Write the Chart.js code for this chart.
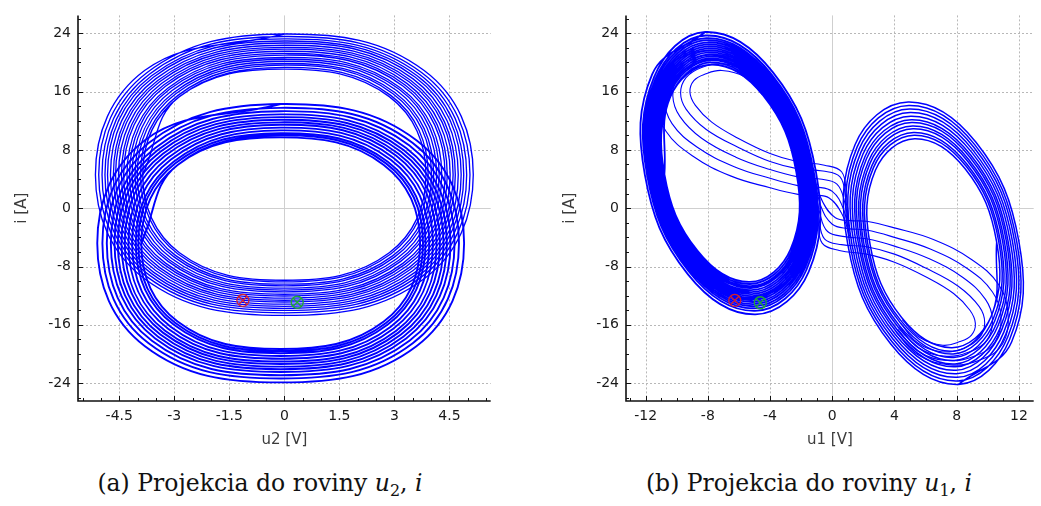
<!DOCTYPE html>
<html>
<head>
<meta charset="utf-8">
<script src="https://cdn.jsdelivr.net/npm/chart.js@4.4.1/dist/chart.umd.min.js"></script>
<style>
  html, body { margin: 0; padding: 0; background: #fff; }
  body { width: 1041px; height: 506px; position: relative; overflow: hidden; }
  canvas { position: absolute; top: 0; }
  #c1 { left: 0; }
  #c2 { left: 548px; }
  .cap { position: absolute; top: 469px; width: 520px; text-align: center;
         font-family: 'DejaVu Serif', serif; font-size: 23.5px; color: #111; white-space: nowrap; }
  .cap sub { font-size: 0.68em; vertical-align: -0.3em; line-height: 0; }
</style>
</head>
<body>
<canvas id="c1" width="498" height="460"></canvas>
<canvas id="c2" width="493" height="460"></canvas>
<div class="cap" style="left:0">(a) Projekcia do roviny <i>u</i><sub>2</sub>, <i>i</i></div>
<div class="cap" style="left:549px">(b) Projekcia do roviny <i>u</i><sub>1</sub>, <i>i</i></div>
<script>
// tick labels
const u2Ticks = [-4.5, -3, -1.5, 0, 1.5, 3, 4.5];
const u1Ticks = [-12, -8, -4, 0, 4, 8, 12];
const iTicks = [-24, -16, -8, 0, 8, 16, 24];

// (a) u2-i plane: loops of the upper ring (left scroll)
const u2iUpper = [
  [-3.86,4.6],[-2.86,15.31],
  [0,19.08],[2.86,15.31],[3.86,4.6],[2.86,-6.11],[0,-9.88],[-2.86,-6.11],[-3.86,4.6],[-2.86,15.31],
  [0,19.31],[2.9,15.48],[3.92,4.6],[2.9,-6.28],[0,-10.11],[-2.9,-6.28],[-3.92,4.6],[-2.9,15.48],
  [0,19.62],[2.96,15.71],[4.01,4.6],[2.96,-6.51],[0,-10.42],[-2.96,-6.51],[-4.01,4.6],[-2.96,15.71],
  [0,19.85],[3.01,15.88],[4.07,4.6],[3.01,-6.68],[0,-10.65],[-3.01,-6.68],[-4.07,4.6],[-3.01,15.88],
  [0,20.16],[3.07,16.11],[4.15,4.6],[3.07,-6.91],[0,-10.96],[-3.07,-6.91],[-4.15,4.6],[-3.07,16.11],
  [0,20.43],[3.13,16.31],[4.22,4.6],[3.13,-7.11],[0,-11.23],[-3.13,-7.11],[-4.22,4.6],[-3.13,16.31],
  [0,20.68],[3.17,16.5],[4.29,4.6],[3.17,-7.3],[0,-11.48],[-3.17,-7.3],[-4.29,4.6],[-3.17,16.5],
  [0,21.01],[3.24,16.74],[4.38,4.6],[3.24,-7.54],[0,-11.81],[-3.24,-7.54],[-4.38,4.6],[-3.24,16.74],
  [0,21.24],[3.29,16.91],[4.44,4.6],[3.29,-7.71],[0,-12.04],[-3.29,-7.71],[-4.44,4.6],[-3.29,16.91],
  [0,21.53],[3.34,17.13],[4.52,4.6],[3.34,-7.93],[0,-12.33],[-3.34,-7.93],[-4.52,4.6],[-3.34,17.13],
  [0,21.83],[3.4,17.35],[4.6,4.6],[3.4,-8.15],[0,-12.63],[-3.4,-8.15],[-4.6,4.6],[-3.4,17.35],
  [0,22.07],[3.45,17.53],[4.66,4.6],[3.45,-8.33],[0,-12.87],[-3.45,-8.33],[-4.66,4.6],[-3.45,17.53],
  [0,22.36],[3.51,17.74],[4.74,4.6],[3.51,-8.54],[0,-13.16],[-3.51,-8.54],[-4.74,4.6],[-3.51,17.74],
  [0,22.66],[3.57,17.97],[4.82,4.6],[3.57,-8.77],[0,-13.46],[-3.57,-8.77],[-4.82,4.6],[-3.57,17.97],
  [0,22.94],[3.62,18.17],[4.89,4.6],[3.62,-8.97],[0,-13.74],[-3.62,-8.97],[-4.89,4.6],[-3.62,18.17],
  [0,23.22],[3.68,18.38],[4.97,4.6],[3.68,-9.18],[0,-14.02],[-3.68,-9.18],[-4.97,4.6],[-3.68,18.38],
  [0,23.55],[3.74,18.62],[5.06,4.6],[3.74,-9.42],[0,-14.35],[-3.74,-9.42],[-5.06,4.6],[-3.74,18.62],
  [0,23.9],[3.81,18.88],[5.15,4.6],[3.81,-9.68],[0,-14.7],[-3.81,-9.68],[-5.15,4.6],[-3.81,18.88],[0,23.9]
];

// (a) loops of the lower ring (right scroll)
const u2iLower = [
  [-3.9,-4.8],[-2.91,5.94],
  [-0.1,9.72],[2.71,5.94],[3.7,-4.8],[2.71,-15.54],[-0.1,-19.32],[-2.91,-15.54],[-3.9,-4.8],[-2.91,5.94],
  [-0.1,10.0],[2.77,6.15],[3.78,-4.8],[2.77,-15.75],[-0.1,-19.6],[-2.97,-15.75],[-3.98,-4.8],[-2.97,6.15],
  [-0.1,10.29],[2.82,6.37],[3.85,-4.8],[2.82,-15.97],[-0.1,-19.89],[-3.02,-15.97],[-4.05,-4.8],[-3.02,6.37],
  [-0.1,10.67],[2.9,6.65],[3.95,-4.8],[2.9,-16.25],[-0.1,-20.27],[-3.1,-16.25],[-4.15,-4.8],[-3.1,6.65],
  [-0.1,11.05],[2.97,6.93],[4.05,-4.8],[2.97,-16.53],[-0.1,-20.65],[-3.17,-16.53],[-4.25,-4.8],[-3.17,6.93],
  [-0.1,11.44],[3.05,7.21],[4.15,-4.8],[3.05,-16.81],[-0.1,-21.04],[-3.25,-16.81],[-4.35,-4.8],[-3.25,7.21],
  [-0.1,11.78],[3.11,7.47],[4.24,-4.8],[3.11,-17.07],[-0.1,-21.38],[-3.31,-17.07],[-4.44,-4.8],[-3.31,7.47],
  [-0.1,12.14],[3.18,7.74],[4.34,-4.8],[3.18,-17.34],[-0.1,-21.74],[-3.38,-17.34],[-4.54,-4.8],[-3.38,7.74],
  [-0.1,12.49],[3.25,7.99],[4.43,-4.8],[3.25,-17.59],[-0.1,-22.09],[-3.45,-17.59],[-4.63,-4.8],[-3.45,7.99],
  [-0.1,12.87],[3.32,8.27],[4.53,-4.8],[3.32,-17.87],[-0.1,-22.47],[-3.52,-17.87],[-4.73,-4.8],[-3.52,8.27],
  [-0.1,13.31],[3.41,8.6],[4.64,-4.8],[3.41,-18.2],[-0.1,-22.91],[-3.61,-18.2],[-4.84,-4.8],[-3.61,8.6],
  [-0.1,13.77],[3.5,8.94],[4.76,-4.8],[3.5,-18.54],[-0.1,-23.37],[-3.7,-18.54],[-4.96,-4.8],[-3.7,8.94],
  [-0.1,14.3],[3.6,9.33],[4.9,-4.8],[3.6,-18.93],[-0.1,-23.9],[-3.8,-18.93],[-5.1,-4.8],[-3.8,9.33],[-0.1,14.3]
];

// (b) u1-i plane: left scroll
const u1iLeft = [
  [-10.79,4.65],[-10.42,15.23],
  [-7.8,19.71],[-4.44,15.46],[-2.31,4.95],[-2.68,-5.63],[-5.3,-10.11],[-8.66,-5.86],[-10.79,4.65],[-10.42,15.23],
  [-7.82,20.0],[-4.4,15.66],[-2.23,4.96],[-2.6,-5.84],[-5.28,-10.4],[-8.7,-6.06],[-10.87,4.64],[-10.5,15.44],
  [-7.85,20.3],[-4.36,15.87],[-2.15,4.96],[-2.53,-6.04],[-5.25,-10.7],[-8.74,-6.27],[-10.95,4.64],[-10.57,15.64],
  [-7.87,20.55],[-4.32,16.05],[-2.08,4.96],[-2.46,-6.22],[-5.23,-10.95],[-8.78,-6.45],[-11.02,4.64],[-10.64,15.82],
  [-7.89,20.84],[-4.28,16.26],[-2.0,4.97],[-2.39,-6.42],[-5.21,-11.24],[-8.82,-6.66],[-11.1,4.63],[-10.71,16.02],
  [-7.91,21.11],[-4.24,16.45],[-1.92,4.97],[-2.31,-6.61],[-5.19,-11.51],[-8.86,-6.85],[-11.18,4.63],[-10.79,16.21],
  [-7.94,21.38],[-4.2,16.65],[-1.84,4.97],[-2.24,-6.8],[-5.16,-11.78],[-8.9,-7.05],[-11.26,4.63],[-10.86,16.4],
  [-7.96,21.65],[-4.17,16.84],[-1.76,4.97],[-2.17,-6.99],[-5.14,-12.05],[-8.93,-7.24],[-11.34,4.63],[-10.93,16.59],
  [-7.98,21.92],[-4.13,17.03],[-1.69,4.98],[-2.1,-7.18],[-5.12,-12.32],[-8.97,-7.43],[-11.41,4.62],[-11.0,16.78],
  [-8.0,22.19],[-4.09,17.23],[-1.61,4.98],[-2.03,-7.37],[-5.1,-12.59],[-9.01,-7.63],[-11.49,4.62],[-11.07,16.97],
  [-8.03,22.47],[-4.05,17.42],[-1.53,4.98],[-1.96,-7.56],[-5.07,-12.87],[-9.05,-7.82],[-11.57,4.62],[-11.14,17.16],
  [-8.05,22.76],[-4.01,17.63],[-1.45,4.99],[-1.89,-7.76],[-5.05,-13.16],[-9.09,-8.03],[-11.65,4.61],[-11.21,17.36],
  [-8.08,23.05],[-3.97,17.84],[-1.37,4.99],[-1.81,-7.96],[-5.02,-13.45],[-9.13,-8.24],[-11.73,4.61],[-11.29,17.56],
  [-8.1,23.34],[-3.93,18.04],[-1.29,4.99],[-1.74,-8.17],[-5.0,-13.74],[-9.17,-8.44],[-11.81,4.61],[-11.36,17.77],
  [-8.13,23.69],[-3.88,18.29],[-1.19,5.0],[-1.65,-8.41],[-4.97,-14.09],[-9.22,-8.69],[-11.91,4.6],[-11.45,18.01],
  [-8.17,24.17],[-3.81,18.64],[-1.05,5.0],[-1.52,-8.75],[-4.93,-14.57],[-9.29,-9.04],[-12.05,4.6],[-11.58,18.35],[-8.17,24.17]
];

// (b) right scroll
const u1iRight = [
  [10.57,-4.65],[10.22,-14.83],
  [7.7,-19.13],[4.47,-15.04],[2.43,-4.95],[2.78,5.23],[5.3,9.53],[8.53,5.44],[10.57,-4.65],[10.22,-14.83],
  [7.74,-19.62],[4.4,-15.39],[2.29,-4.95],[2.65,5.57],[5.26,10.02],[8.6,5.79],[10.71,-4.65],[10.35,-15.17],
  [7.77,-20.0],[4.35,-15.66],[2.18,-4.96],[2.55,5.84],[5.23,10.4],[8.65,6.06],[10.82,-4.64],[10.45,-15.44],
  [7.81,-20.49],[4.28,-16.01],[2.04,-4.96],[2.43,6.18],[5.19,10.89],[8.72,6.41],[10.96,-4.64],[10.57,-15.78],
  [7.84,-20.88],[4.23,-16.29],[1.93,-4.97],[2.33,6.45],[5.16,11.28],[8.77,6.69],[11.07,-4.63],[10.67,-16.05],
  [7.89,-21.36],[4.16,-16.63],[1.8,-4.97],[2.2,6.79],[5.11,11.76],[8.84,7.03],[11.2,-4.63],[10.8,-16.39],
  [7.92,-21.75],[4.1,-16.91],[1.69,-4.98],[2.1,7.06],[5.08,12.15],[8.9,7.31],[11.31,-4.62],[10.9,-16.66],
  [7.96,-22.23],[4.03,-17.26],[1.55,-4.98],[1.97,7.4],[5.04,12.63],[8.97,7.66],[11.45,-4.62],[11.03,-17.0],
  [8.0,-22.72],[3.97,-17.6],[1.41,-4.99],[1.85,7.73],[5.0,13.12],[9.03,8.0],[11.59,-4.61],[11.15,-17.33],
  [8.04,-23.2],[3.9,-17.95],[1.27,-4.99],[1.72,8.07],[4.96,13.6],[9.1,8.35],[11.73,-4.61],[11.28,-17.67],
  [8.08,-23.69],[3.83,-18.29],[1.14,-5.0],[1.6,8.41],[4.92,14.09],[9.17,8.69],[11.86,-4.6],[11.4,-18.01],
  [8.12,-24.17],[3.76,-18.64],[1.0,-5.0],[1.47,8.75],[4.88,14.57],[9.24,9.04],[12.0,-4.6],[11.53,-18.35],[8.12,-24.17]
];

// (b) crossings from the right scroll into the left one
const u1iCrossLeft = [
  [[1.05,-2.0],[0.9,2.0],[0.6,5.0],[-0.5,5.9],[-2.27,6.4],[-4.0,7.5],[-6.06,9.6],[-7.75,11.8],[-8.8,14.1],[-9.15,15.9],[-8.9,17.5],[-8.17,18.4],[-7.1,18.9],[-5.6,18.0],[-4.5,15.6]],
  [[1.05,-2.5],[0.85,1.5],[0.5,4.3],[-0.6,5.1],[-2.2,5.4],[-4.0,6.4],[-6.0,8.3],[-8.1,10.8],[-9.4,13.6],[-9.75,15.8],[-9.4,17.9],[-8.4,19.3],[-7.0,19.8],[-5.5,18.8],[-4.4,16.0]],
  [[1.1,-3.0],[0.8,0.8],[0.3,3.3],[-0.8,4.0],[-2.2,4.3],[-4.0,5.3],[-6.2,7.0],[-8.4,9.6],[-9.8,12.6],[-10.25,15.4],[-9.9,18.2],[-8.8,19.8],[-7.2,20.4],[-5.5,19.3],[-4.3,16.4]],
  [[1.1,-3.5],[0.7,0.0],[0.0,2.3],[-1.0,2.9],[-2.2,3.1],[-4.0,4.1],[-6.3,5.7],[-8.7,8.4],[-10.3,11.6],[-10.8,15.0],[-10.4,18.5],[-9.2,20.3],[-7.4,21.0],[-5.5,19.8],[-4.2,16.8]],
  [[1.15,-4.0],[0.6,-0.7],[-0.2,1.4],[-1.2,1.8],[-2.2,1.9],[-4.0,2.8],[-6.5,4.4],[-9.0,7.2],[-10.7,10.6],[-11.3,14.6],[-10.9,18.7],[-9.6,20.8],[-7.6,21.6],[-5.5,20.3],[-4.1,17.2]]
];

// (b) crossings from the left scroll into the right one
const u1iCrossRight = [
  [[-1.05,2.2],[-0.9,-1.8],[-0.65,-4.8],[0.45,-5.8],[2.2,-6.3],[4.0,-7.4],[6.1,-9.5],[7.8,-11.7],[8.85,-14.0],[9.2,-15.8],[8.95,-17.4],[8.2,-18.3],[7.1,-18.8],[5.6,-17.7],[4.5,-15.3]],
  [[-1.05,2.6],[-0.85,-1.4],[-0.5,-4.2],[0.6,-5.0],[2.2,-5.3],[4.0,-6.3],[6.0,-8.2],[8.1,-10.7],[9.45,-13.5],[9.8,-15.7],[9.45,-17.8],[8.45,-19.2],[7.0,-19.7],[5.5,-18.5],[4.4,-15.8]],
  [[-1.1,3.1],[-0.8,-0.7],[-0.3,-3.2],[0.8,-3.9],[2.2,-4.2],[4.0,-5.2],[6.2,-6.9],[8.4,-9.5],[9.85,-12.5],[10.3,-15.3],[9.95,-18.1],[8.85,-19.7],[7.2,-20.3],[5.5,-19.1],[4.3,-16.2]],
  [[-1.1,3.6],[-0.7,0.1],[0.0,-2.2],[1.0,-2.8],[2.2,-3.0],[4.0,-4.0],[6.3,-5.6],[8.7,-8.3],[10.3,-11.5],[10.85,-14.9],[10.45,-18.4],[9.25,-20.2],[7.4,-20.9],[5.5,-19.6],[4.2,-16.6]],
  [[-1.15,4.1],[-0.6,0.8],[0.2,-1.3],[1.2,-1.7],[2.2,-1.8],[4.0,-2.7],[6.5,-4.3],[9.0,-7.1],[10.7,-10.5],[11.3,-14.5],[10.95,-18.6],[9.65,-20.7],[7.6,-21.5],[5.5,-20.1],[4.1,-17.0]]
];

// start / end markers
const u2iStart = [-1.13, -12.65];
const u2iEnd = [0.35, -12.9];
const u1iStart = [-6.27, -12.65];
const u1iEnd = [-4.63, -12.97];

const BLUE = '#0000ff';
const RED = '#d4202e';
const GREEN = '#20a834';

const pts = arr => arr.map(([x, y]) => ({ x, y }));

function curve(data, width) {
  return { data: pts(data), showLine: true, borderColor: BLUE, borderWidth: width,
           pointRadius: 0, tension: 0.4, fill: false };
}
function marker(p, color, style) {
  return { data: pts([p]), showLine: false, pointStyle: style, pointRadius: 6,
           pointBorderColor: color, pointBackgroundColor: 'rgba(0,0,0,0)', pointBorderWidth: 1.3 };
}

// dotted grid, axis lines, major + minor ticks
const frame = {
  id: 'frame',
  beforeDatasetsDraw(chart) {
    const { ctx, chartArea: a, scales: { x, y } } = chart;
    ctx.save();
    ctx.lineWidth = 1;
    for (const t of x.ticks) {
      const px = Math.round(x.getPixelForValue(t.value)) + 0.5;
      ctx.strokeStyle = t.value === 0 ? '#cfcfcf' : '#b8b8b8';
      ctx.setLineDash(t.value === 0 ? [] : [2, 2]);
      ctx.beginPath(); ctx.moveTo(px, a.top); ctx.lineTo(px, a.bottom); ctx.stroke();
    }
    for (const t of y.ticks) {
      const py = Math.round(y.getPixelForValue(t.value)) + 0.5;
      ctx.strokeStyle = t.value === 0 ? '#cfcfcf' : '#b8b8b8';
      ctx.setLineDash(t.value === 0 ? [] : [2, 2]);
      ctx.beginPath(); ctx.moveTo(a.left, py); ctx.lineTo(a.right, py); ctx.stroke();
    }
    ctx.restore();
  },
  afterDatasetsDraw(chart, args, opts) {
    const { ctx, chartArea: a, scales: { x, y } } = chart;
    ctx.save();
    ctx.strokeStyle = '#111';
    ctx.lineWidth = 1;
    ctx.beginPath();
    for (let v = Math.ceil(x.min / opts.xMinor) * opts.xMinor; v <= x.max; v += opts.xMinor) {
      const px = Math.round(x.getPixelForValue(v)) + 0.5;
      const major = x.ticks.some(t => Math.abs(t.value - v) < 1e-6);
      ctx.moveTo(px, a.bottom); ctx.lineTo(px, a.bottom - (major ? 5 : 3));
    }
    for (let v = Math.ceil(y.min / opts.yMinor) * opts.yMinor; v <= y.max; v += opts.yMinor) {
      const py = Math.round(y.getPixelForValue(v)) + 0.5;
      const major = y.ticks.some(t => Math.abs(t.value - v) < 1e-6);
      ctx.moveTo(a.left, py); ctx.lineTo(a.left + (major ? 5 : 3), py);
    }
    ctx.stroke();
    ctx.lineWidth = 1.6;
    ctx.beginPath();
    ctx.moveTo(a.left, a.top); ctx.lineTo(a.left, a.bottom); ctx.lineTo(a.right, a.bottom);
    ctx.stroke();
    ctx.restore();
  }
};

const tickFont = { family: 'DejaVu Sans', size: 14 };
const titleFont = { family: 'DejaVu Sans', size: 15 };

function makeChart(id, xMin, xMax, xTicks, xTitle, xMinor, datasets) {
  return new Chart(document.getElementById(id), {
    type: 'scatter',
    data: { datasets },
    plugins: [frame],
    options: {
      responsive: false,
      animation: false,
      events: [],
      layout: { padding: { top: 12, right: 0, bottom: 0, left: 0 } },
      plugins: { legend: { display: false }, tooltip: { enabled: false },
                 frame: { xMinor, yMinor: 2 } },
      scales: {
        x: {
          type: 'linear', min: xMin, max: xMax,
          afterBuildTicks: s => { s.ticks = xTicks.map(v => ({ value: v })); },
          afterFit: s => { s.height = 59; },
          grid: { display: false, drawTicks: false }, border: { display: false },
          ticks: { padding: 7, color: '#1a1a1a', font: tickFont, maxRotation: 0, autoSkip: false,
                   includeBounds: false, callback: v => String(v) },
          title: { display: true, text: xTitle, color: '#3c3c3c', font: titleFont, padding: { top: 0, bottom: 11 } }
        },
        y: {
          type: 'linear', min: -26.45, max: 26.45,
          afterBuildTicks: s => { s.ticks = iTicks.map(v => ({ value: v })); },
          afterFit: s => { s.width = 78; },
          grid: { display: false, drawTicks: false }, border: { display: false },
          ticks: { padding: 7, color: '#1a1a1a', font: tickFont, autoSkip: false,
                   includeBounds: false, callback: v => String(v) },
          title: { display: true, text: 'i [A]', color: '#3c3c3c', font: titleFont, padding: { top: 13, bottom: 0 } }
        }
      }
    }
  });
}

// first dataset is painted last, so the markers come first
makeChart('c1', -5.625, 5.625, u2Ticks, 'u2 [V]', 0.5, [
  marker(u2iStart, RED, 'circle'), marker(u2iStart, RED, 'crossRot'),
  marker(u2iEnd, GREEN, 'circle'), marker(u2iEnd, GREEN, 'crossRot'),
  curve(u2iUpper, 1.35),
  curve(u2iLower, 1.9)
]);

makeChart('c2', -13.26, 12.95, u1Ticks, 'u1 [V]', 1, [
  marker(u1iStart, RED, 'circle'), marker(u1iStart, RED, 'crossRot'),
  marker(u1iEnd, GREEN, 'circle'), marker(u1iEnd, GREEN, 'crossRot'),
  curve(u1iLeft, 1.8),
  curve(u1iRight, 1.5),
  ...u1iCrossLeft.map(c => curve(c, 1.1)),
  ...u1iCrossRight.map(c => curve(c, 1.1))
]);
</script>
</body>
</html>
